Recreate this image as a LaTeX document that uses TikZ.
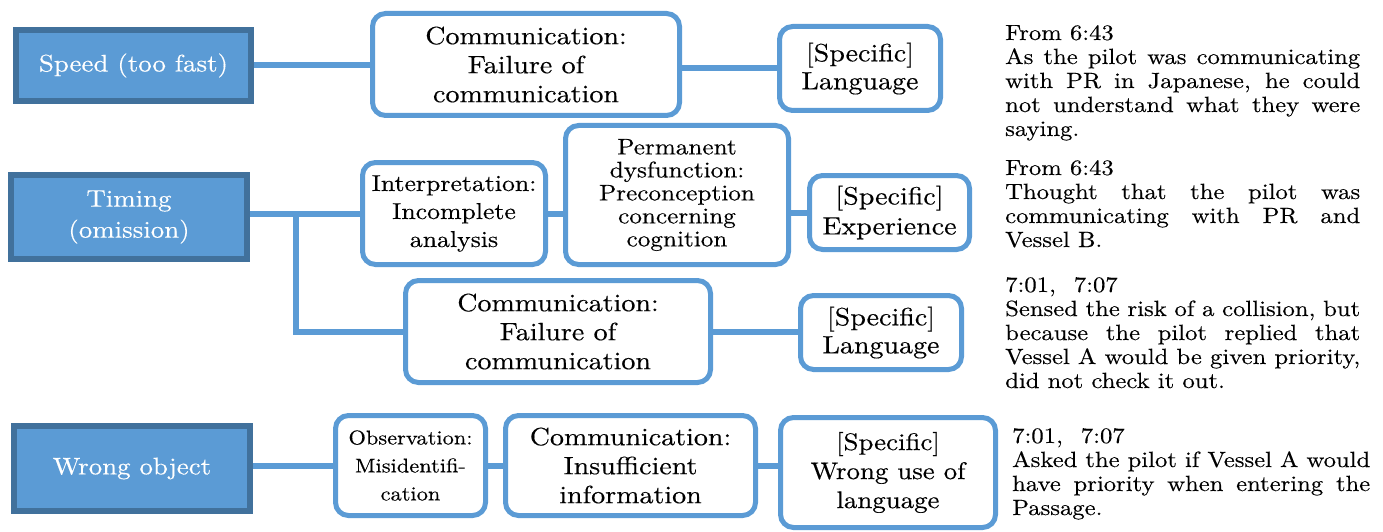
\documentclass[tikz,border=0pt]{standalone}
\usepackage{fontspec}
\setmainfont{lmroman10-regular.otf}[FakeStretch=1.12,FakeBold=0.35]
\definecolor{bl}{HTML}{5B9BD5}
\definecolor{dk}{HTML}{41719C}
\newcommand{\jl}[2][355pt]{\makebox[#1][s]{#2}}
\newcommand{\fs}[2]{\fontsize{#1}{#2}\selectfont}
\tikzset{
  cat/.style={draw=dk, fill=bl, line width=6pt, text=white, inner sep=0pt, align=center},
  rbox/.style={draw=bl, fill=white, line width=5pt, rounded corners=13pt, inner sep=0pt, align=center},
  conn/.style={draw=bl, line width=6pt},
  note/.style={anchor=base west, inner sep=0pt},
}
\begin{document}
\begin{tikzpicture}[x=1pt,y=-1pt]
\useasboundingbox (0,0) rectangle (1383,532);
% category boxes
\node[cat, minimum width=235pt, minimum height=71pt, font=\fs{24}{31}] (speed) at (133.5,65.5) {Speed (too fast)};
\node[cat, minimum width=236pt, minimum height=84pt, font=\fs{24}{31}] (timing) at (129,217) {Timing\\(omission)};
\node[cat, minimum width=236pt, minimum height=85pt, font=\fs{24}{31}] (wrong) at (132,468.5) {Wrong object};
% row 1
\node[rbox, minimum width=307pt, minimum height=102pt, font=\fs{25}{29}] (c1) at (526,64.5) {Communication:\\Failure of\\communication};
\node[rbox, minimum width=161pt, minimum height=84pt, font=\fs{25}{28}] (l1) at (860,68.5) {[Specific]\\Language};
% row 2
\node[rbox, minimum width=183pt, minimum height=102pt, font=\fs{23}{28}] (interp) at (454,213.5) {Interpretation:\\Incomplete\\analysis};
\node[rbox, minimum width=223pt, minimum height=139pt, font=\fs{22.5}{23}] (perm) at (677,195) {Permanent\\dysfunction:\\Preconception\\concerning\\cognition};
\node[rbox, minimum width=160pt, minimum height=74pt, font=\fs{25}{30}] (exp) at (889.5,212.5) {[Specific]\\Experience};
\node[rbox, minimum width=305pt, minimum height=102pt, font=\fs{25}{29}] (c2) at (558,331.5) {Communication:\\Failure of\\communication};
\node[rbox, minimum width=161pt, minimum height=74pt, font=\fs{25}{28}] (l2) at (881,332.5) {[Specific]\\Language};
% row 3
\node[rbox, minimum width=150pt, minimum height=100pt, font=\fs{20}{28}] (obs) at (410.5,465.5) {Observation:\\Misidentifi-\\cation};
\node[rbox, minimum width=250pt, minimum height=100pt, font=\fs{25}{29}] (c3) at (630.5,465.5) {Communication:\\Insufficient\\information};
\node[rbox, minimum width=215pt, minimum height=110pt, font=\fs{24}{29}] (wul) at (888,472.5) {[Specific]\\Wrong use of\\language};
% connectors
\coordinate (br) at (296,213.5);
\draw[conn] (speed.east) -- (speed.east -| c1.west);
\draw[conn] (c1.east |- l1.west) -- (l1.west);
\draw[conn] (timing.east |- interp.west) -- (interp.west);
\draw[conn] (br) |- (c2.west);
\draw[conn] (interp.east) -- (interp.east -| perm.west);
\draw[conn] (perm.east |- exp.west) -- (exp.west);
\draw[conn] (c2.east) -- (c2.east -| l2.west);
\draw[conn] (wrong.east |- obs.west) -- (obs.west);
\draw[conn] (obs.east) -- (obs.east -| c3.west);
\draw[conn] (c3.east) -- (c3.east -| wul.west);
% notes
\node[note] (n1) at (1005,40) {\parbox[t]{360pt}{\fs{22}{24}From 6:43\\\jl{As the pilot was communicating}\\\jl{with PR in Japanese, he could}\\\jl{not understand what they were}\\saying.}};
\node[note] (n2) at (1005,175) {\parbox[t]{360pt}{\fs{22}{24}From 6:43\\\jl{Thought that the pilot was}\\\jl{communicating with PR and}\\Vessel B.}};
\node[note] (n3) at (1005,292) {\parbox[t]{360pt}{\fs{22}{24}7:01,\hspace{18pt}7:07\\\jl{Sensed the risk of a collision, but}\\\jl{because the pilot replied that}\\\jl{Vessel A would be given priority,}\\did not check it out.}};
\node[note] (n4) at (1012,443) {\parbox[t]{365pt}{\fs{22}{24}7:01,\hspace{18pt}7:07\\\jl[358pt]{Asked the pilot if Vessel A would}\\\jl[358pt]{have priority when entering the}\\Passage.}};
\end{tikzpicture}
\end{document}
